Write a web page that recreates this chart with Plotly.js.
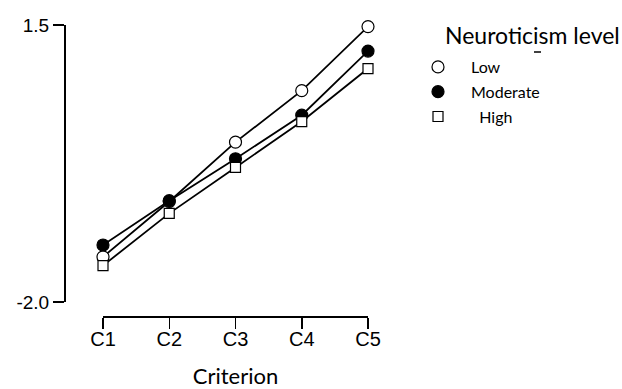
<!DOCTYPE html>
<html>
<head>
<meta charset="utf-8">
<script src="https://cdn.plot.ly/plotly-3.0.1.min.js"></script>
<style>html,body{margin:0;padding:0;background:#fff}#chart{width:622px;height:389px}</style>
</head>
<body>
<div id="chart"></div>
<script>
const categories = ["C1", "C2", "C3", "C4", "C5"];
const lowValues = [-1.43, -0.73, 0.02, 0.67, 1.48];
const moderateValues = [-1.28, -0.72, -0.19, 0.36, 1.17];
const highValues = [-1.54, -0.88, -0.30, 0.28, 0.95];
const seriesNames = ["Low", "Moderate", "\u00a0\u00a0High"];
const legendTitle = "Neuroticism level";
const xTitle = "Criterion";
const yTickVals = [-2.0, 1.5];
const yTickText = ["-2.0", "1.5"];

const lineStyle = {color: "#000", width: 1.8};
const markerStyles = [
  {symbol: "circle", size: 12, color: "#fff", line: {color: "#000", width: 1.2}},
  {symbol: "circle", size: 12, color: "#000", line: {color: "#000", width: 1.2}},
  {symbol: "square", size: 10, color: "#fff", line: {color: "#000", width: 1.2}}
];
const seriesValues = [lowValues, moderateValues, highValues];

const traces = [];
seriesValues.forEach((vals, i) => {
  traces.push({x: categories, y: vals, mode: "lines", line: lineStyle, showlegend: false, hoverinfo: "skip"});
});
seriesValues.forEach((vals, i) => {
  traces.push({x: categories, y: vals, name: seriesNames[i], mode: "markers", marker: markerStyles[i],
    cliponaxis: false, legendgroup: "g" + i, showlegend: true});
});

const L = 64, W = 304, T = 25, H = 291;
const px = v => (v - L) / W;
const py = v => (T + H - v) / H;

const layout = {
  width: 622, height: 389,
  margin: {l: L, r: 622 - L - W, t: T, b: 389 - T - H, autoexpand: false},
  paper_bgcolor: "#fff", plot_bgcolor: "#fff",
  showlegend: true,
  xaxis: {
    type: "category", range: [0, 4], domain: [(103 - L) / W, 1],
    anchor: "free", position: 0,
    showline: true, linecolor: "#000", linewidth: 1.5,
    ticks: "outside", ticklen: 11, tickwidth: 1.5, tickcolor: "#000",
    ticklabelstandoff: -7,
    showgrid: false, zeroline: false,
    tickfont: {family: "Liberation Sans, Arial, sans-serif", size: 20, color: "#000"},
    title: {text: xTitle, font: {family: "Lato, sans-serif", size: 22, color: "#000"}, standoff: 25}
  },
  yaxis: {
    range: [-2.0, 1.5], domain: [14 / H, 1],
    anchor: "free", position: 0,
    showline: true, linecolor: "#000", linewidth: 1.5,
    ticks: "outside", ticklen: 11, tickwidth: 1.5, tickcolor: "#000",
    tickvals: yTickVals, ticktext: yTickText,
    showgrid: false, zeroline: false,
    tickfont: {family: "Liberation Sans, Arial, sans-serif", size: 19, color: "#000"}
  },
  legend: {
    x: px(405), xanchor: "left", y: py(50), yanchor: "top",
    bgcolor: "rgba(0,0,0,0)", itemwidth: 56, tracegroupgap: 1,
    font: {family: "Lato, sans-serif", size: 16, color: "#000"}
  },
  annotations: [{
    text: legendTitle, xref: "paper", yref: "paper", x: px(443), y: py(35),
    xanchor: "left", yanchor: "middle", showarrow: false,
    font: {family: "Lato, sans-serif", size: 23, color: "#000"}
  }],
  shapes: [{type: "line", xref: "paper", yref: "paper", x0: px(534), x1: px(541), y0: py(52), y1: py(52),
    line: {color: "#000", width: 1.5}}]
};

Plotly.newPlot("chart", traces, layout, {staticPlot: true, displayModeBar: false});
</script>
</body>
</html>
